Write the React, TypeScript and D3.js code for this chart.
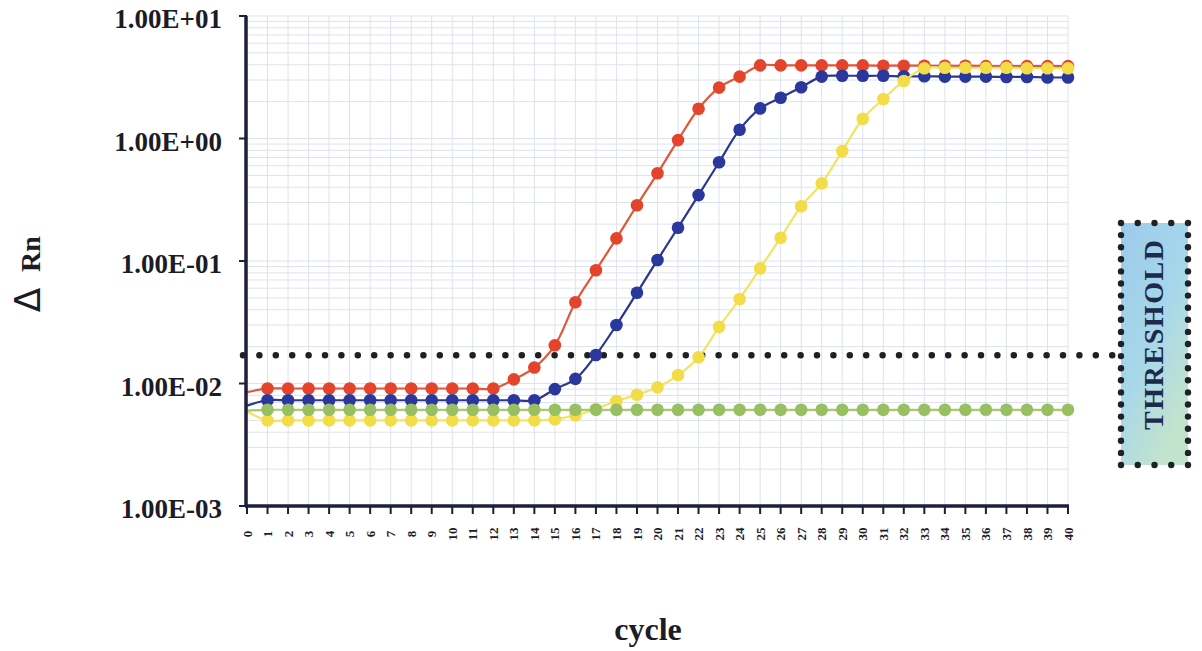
import React from "react";
import * as d3 from "d3";

// Amplification plot: ΔRn per PCR cycle on a log scale
const cycles = [
  0, 1, 2, 3, 4, 5, 6, 7, 8, 9, 10, 11, 12, 13, 14, 15, 16, 17, 18, 19, 20,
  21, 22, 23, 24, 25, 26, 27, 28, 29, 30, 31, 32, 33, 34, 35, 36, 37, 38, 39, 40,
];

const redRn = [
  0.0085, 0.0091, 0.0091, 0.0091, 0.0091, 0.0091, 0.0091, 0.0091, 0.0091, 0.0091,
  0.0091, 0.0091, 0.0091, 0.0108, 0.0135, 0.0205, 0.046, 0.084, 0.153, 0.285,
  0.52, 0.97, 1.75, 2.6, 3.2, 3.95, 3.95, 3.95, 3.95, 3.95, 3.95, 3.93, 3.93,
  3.93, 3.92, 3.92, 3.9, 3.9, 3.9, 3.9, 3.9,
];

const blueRn = [
  0.0066, 0.0073, 0.0073, 0.0073, 0.0073, 0.0073, 0.0073, 0.0073, 0.0073, 0.0073,
  0.0073, 0.0073, 0.0073, 0.0073, 0.0073, 0.009, 0.0109, 0.0171, 0.03, 0.055,
  0.102, 0.187, 0.345, 0.64, 1.18, 1.76, 2.15, 2.62, 3.2, 3.25, 3.25, 3.25, 3.22,
  3.22, 3.2, 3.2, 3.2, 3.18, 3.18, 3.15, 3.15,
];

const yellowRn = [
  0.0059, 0.005, 0.005, 0.005, 0.005, 0.005, 0.005, 0.005, 0.005, 0.005, 0.005,
  0.005, 0.005, 0.005, 0.005, 0.0051, 0.0055, 0.0062, 0.0072, 0.0081, 0.0093,
  0.0117, 0.0164, 0.029, 0.049, 0.087, 0.155, 0.28, 0.43, 0.79, 1.45, 2.1, 2.95,
  3.75, 3.78, 3.78, 3.78, 3.78, 3.75, 3.75, 3.75,
];

const greenRn = [
  0.006, 0.0061, 0.0061, 0.0061, 0.0061, 0.0061, 0.0061, 0.0061, 0.0061, 0.0061,
  0.0061, 0.0061, 0.0061, 0.0061, 0.0061, 0.0061, 0.0061, 0.0061, 0.0061, 0.0061,
  0.0061, 0.0061, 0.0061, 0.0061, 0.0061, 0.0061, 0.0061, 0.0061, 0.0061, 0.0061,
  0.0061, 0.0061, 0.0061, 0.0061, 0.0061, 0.0061, 0.0061, 0.0061, 0.0061, 0.0061,
  0.0061,
];

const thresholdRn = 0.017;
const yTicks = [10, 1, 0.1, 0.01, 0.001];
const yTickLabels = ["1.00E+01", "1.00E+00", "1.00E-01", "1.00E-02", "1.00E-03"];

const series = [
  { name: "red", values: redRn, line: "#e2573b", dot: "#e5442c" },
  { name: "blue", values: blueRn, line: "#2b3690", dot: "#2a379c" },
  { name: "yellow", values: yellowRn, line: "#f0e560", dot: "#f2dc48" },
  { name: "green", values: greenRn, line: "#a8c873", dot: "#98bf62" },
];

const W = 1202;
const H = 651;
const X0 = 247;
const X1 = 1068;
const YTOP = 16;
const YBOT = 506;

const serif = "'Liberation Serif', 'Times New Roman', serif";
const axisColor = "#1d1f3c";

export default function App() {
  const x = d3.scaleLinear().domain([0, 40]).range([X0, X1]);
  const y = d3.scaleLog().domain([0.001, 10]).range([YBOT, YTOP]);

  // log grid: every integer multiple within each decade
  const hGrid: number[] = [];
  for (let e = -3; e < 1; e++) {
    for (let m = 1; m <= 9; m++) hGrid.push(m * Math.pow(10, e));
  }
  hGrid.push(10);

  const line = d3
    .line<number>()
    .x((_, i) => x(cycles[i]))
    .y((v) => y(v))
    .curve(d3.curveCatmullRom.alpha(0.5));

  const thrY = y(thresholdRn);

  // THRESHOLD box
  const bx0 = 1121;
  const bx1 = 1188;
  const by0 = 223;
  const by1 = 465;
  const nH = 5;
  const nV = 21;
  const boxDots: [number, number][] = [];
  for (let i = 0; i < nH; i++) {
    const px = bx0 + ((bx1 - bx0) * i) / (nH - 1);
    boxDots.push([px, by0], [px, by1]);
  }
  for (let j = 1; j < nV - 1; j++) {
    const py = by0 + ((by1 - by0) * j) / (nV - 1);
    boxDots.push([bx0, py], [bx1, py]);
  }

  return (
    <svg
      width={W}
      height={H}
      viewBox={`0 0 ${W} ${H}`}
      style={{ position: "absolute", left: 0, top: 0, background: "#fff" }}
    >
      <defs>
        <linearGradient id="boxFill" x1="0" y1="0" x2="0.6" y2="1">
          <stop offset="0" stopColor="#9ccbea" />
          <stop offset="0.55" stopColor="#a7d7ea" />
          <stop offset="1" stopColor="#c3e4cc" />
        </linearGradient>
      </defs>

      {/* grid */}
      <g stroke="#dde3ec" strokeWidth={1}>
        {hGrid.map((v, i) => (
          <line key={"h" + i} x1={X0} x2={X1} y1={y(v)} y2={y(v)} />
        ))}
        {cycles.map((c) => (
          <line key={"v" + c} x1={x(c)} x2={x(c)} y1={YTOP} y2={YBOT} />
        ))}
      </g>

      {/* threshold */}
      <line
        x1={243}
        x2={1121}
        y1={thrY}
        y2={thrY}
        stroke="#1f1f24"
        strokeWidth={6.5}
        strokeLinecap="round"
        strokeDasharray="0 16.4"
      />

      {/* series */}
      {series.map((s) => (
        <g key={s.name}>
          <path d={line(s.values) || ""} fill="none" stroke={s.line} strokeWidth={2.2} />
          {s.values.map((v, i) =>
            i === 0 ? null : (
              <circle key={i} cx={x(cycles[i])} cy={y(v)} r={6.3} fill={s.dot} />
            )
          )}
        </g>
      ))}

      {/* axes */}
      <g stroke={axisColor} fill="none">
        <line x1={X0 - 1} x2={X0 - 1} y1={YTOP} y2={YBOT + 1} strokeWidth={3.5} />
        <line x1={X0 - 2} x2={X1 + 1} y1={YBOT} y2={YBOT} strokeWidth={3.5} />
        {yTicks.map((v) => (
          <line key={v} x1={X0 - 8} x2={X0} y1={y(v)} y2={y(v)} strokeWidth={2} />
        ))}
        {cycles.map((c) => (
          <line key={c} x1={x(c)} x2={x(c)} y1={YBOT} y2={YBOT + 8} strokeWidth={2} />
        ))}
      </g>

      {/* y tick labels */}
      {yTicks.map((v, i) => (
        <text
          key={v}
          x={222}
          y={y(v) + 3}
          dy="0.35em"
          textAnchor="end"
          fontFamily={serif}
          fontWeight="bold"
          fontSize={27}
          fill="#1c1c28"
        >
          {yTickLabels[i]}
        </text>
      ))}

      {/* x tick labels */}
      {cycles.map((c) => (
        <text
          key={c}
          transform={`translate(${x(c)},534) rotate(-90)`}
          dy="0.35em"
          textAnchor="middle"
          fontFamily={serif}
          fontWeight="bold"
          fontSize={13}
          fill="#1c1c28"
        >
          {c}
        </text>
      ))}

      {/* axis titles */}
      <text
        transform="translate(40,300) rotate(-90)"
        textAnchor="middle"
        fontFamily="'DejaVu Sans', sans-serif"
        fontSize={36}
        fill="#1c1c28"
      >
        Δ
      </text>
      <text
        transform="translate(40,254) rotate(-90)"
        textAnchor="middle"
        fontFamily={serif}
        fontWeight="bold"
        fontSize={28}
        fill="#1c1c28"
      >
        Rn
      </text>
      <text
        x={648}
        y={640}
        textAnchor="middle"
        fontFamily={serif}
        fontWeight="bold"
        fontSize={32}
        fill="#1c1c28"
      >
        cycle
      </text>

      {/* threshold box */}
      <rect x={bx0} y={by0} width={bx1 - bx0} height={by1 - by0} fill="url(#boxFill)" />
      {boxDots.map(([px, py], i) => (
        <circle key={i} cx={px} cy={py} r={3.2} fill="#1f2128" />
      ))}
      <text
        transform="translate(1163,335) rotate(-90)"
        textAnchor="middle"
        fontFamily={serif}
        fontWeight="bold"
        fontSize={28}
        textLength={190}
        lengthAdjust="spacing"
        fill="#1e2a4c"
      >
        THRESHOLD
      </text>
    </svg>
  );
}
